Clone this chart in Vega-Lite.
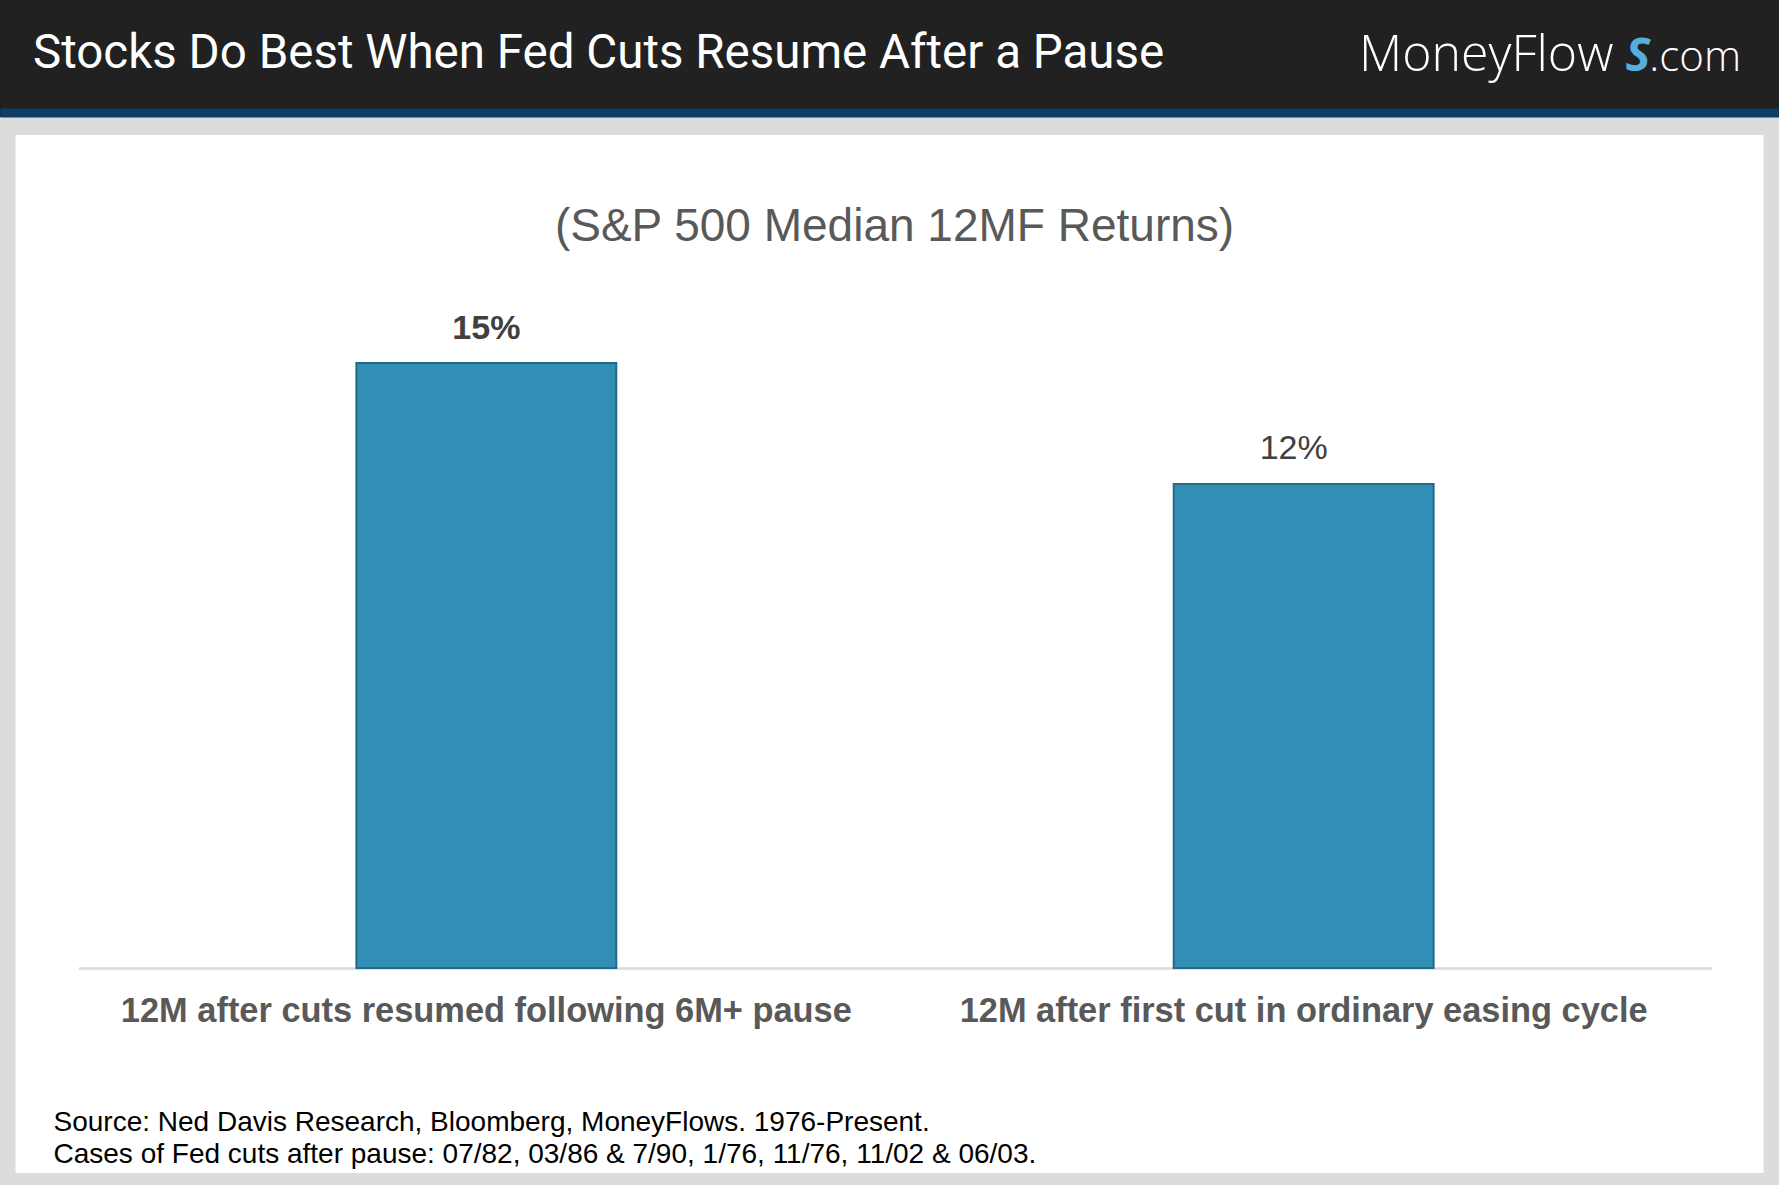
{
  "$schema": "https://vega.github.io/schema/vega-lite/v6.json",
  "background": "#dcdcdc",
  "padding": {"left": 0, "top": 0, "right": 0, "bottom": 12},
  "spacing": 18,
  "center": true,
  "config": {"view": {"stroke": null}},
  "vconcat": [
    {
      "width": 1779,
      "height": 117,
      "view": {"fill": "#212121", "stroke": null},
      "data": {"values": [{"title": "Stocks Do Best When Fed Cuts Resume After a Pause", "brand": "MoneyFlow", "brandS": "S", "tld": ".com"}]},
      "layer": [
        {
          "mark": {"type": "text", "align": "left", "baseline": "alphabetic", "font": "Roboto", "fontSize": 47.5, "color": "#ffffff"},
          "encoding": {
            "x": {"datum": 33, "type": "quantitative", "scale": {"domain": [0, 1779], "nice": false, "zero": false},
              "axis": {"orient": "bottom", "labels": false, "ticks": false, "grid": false, "title": null, "domain": true, "domainColor": "#0e3e66", "domainWidth": 9, "offset": -4.5}},
            "y": {"datum": 68, "type": "quantitative", "scale": {"domain": [0, 117], "reverse": true, "nice": false, "zero": false}, "axis": null},
            "text": {"field": "title"}
          }
        },
        {
          "mark": {"type": "text", "align": "left", "baseline": "alphabetic", "font": "Open Sans", "fontSize": 50, "fontWeight": 300, "color": "#ffffff"},
          "encoding": {
            "x": {"datum": 1359, "type": "quantitative"},
            "y": {"datum": 71, "type": "quantitative"},
            "text": {"field": "brand"}
          }
        },
        {
          "mark": {"type": "text", "align": "center", "baseline": "alphabetic", "font": "Open Sans", "fontSize": 47, "fontWeight": "bold", "fontStyle": "italic", "color": "#56aedb"},
          "encoding": {
            "x": {"datum": 1638, "type": "quantitative"},
            "y": {"datum": 71, "type": "quantitative"},
            "text": {"field": "brandS"}
          }
        },
        {
          "mark": {"type": "text", "align": "right", "baseline": "alphabetic", "font": "Open Sans", "fontSize": 42, "fontWeight": 300, "color": "#ffffff"},
          "encoding": {
            "x": {"datum": 1741, "type": "quantitative"},
            "y": {"datum": 71, "type": "quantitative"},
            "text": {"field": "tld"}
          }
        }
      ]
    },
    {
      "width": 1748,
      "height": 1038,
      "view": {"fill": "#ffffff", "stroke": null},
      "title": {
        "text": "(S&P 500 Median 12MF Returns)",
        "font": "Liberation Sans",
        "fontSize": 46,
        "fontWeight": "normal",
        "color": "#595959",
        "anchor": "middle",
        "frame": "group",
        "orient": "top",
        "offset": 0,
        "baseline": "alphabetic",
        "dy": 152,
        "dx": 5
      },
      "data": {
        "values": [
          {"case": "12M after cuts resumed following 6M+ pause", "ret": 0.15},
          {"case": "12M after first cut in ordinary easing cycle", "ret": 0.12}
        ]
      },
      "encoding": {
        "x": {
          "field": "case",
          "type": "nominal",
          "sort": null,
          "scale": {"range": [63, 1696], "paddingInner": 0.682, "paddingOuter": 0.34},
          "axis": {
            "orient": "bottom",
            "offset": -205,
            "domain": true,
            "domainColor": "#d9d9d9",
            "domainWidth": 2.5,
            "ticks": false,
            "grid": false,
            "labelAngle": 0,
            "labelFont": "Liberation Sans",
            "labelFontSize": 34.4,
            "labelFontWeight": "bold",
            "labelColor": "#595959",
            "labelPadding": 26,
            "labelLimit": 2000,
            "labelBaseline": "top",
            "title": [
              "Source: Ned Davis Research, Bloomberg, MoneyFlows. 1976-Present.",
              "Cases of Fed cuts after pause: 07/82, 03/86 & 7/90, 1/76, 11/76, 11/02 & 06/03."
            ],
            "titleFont": "Liberation Sans",
            "titleFontSize": 28,
            "titleFontWeight": "normal",
            "titleColor": "#000000",
            "titleAnchor": "start",
            "titleAlign": "left",
            "titleBaseline": "alphabetic",
            "titleX": 37.5,
            "titleY": 162,
            "titleLineHeight": 32
          }
        },
        "y": {
          "field": "ret",
          "type": "quantitative",
          "scale": {"domain": [0, 0.15], "range": [833, 228], "nice": false, "zero": true},
          "axis": null
        }
      },
      "layer": [
        {
          "mark": {"type": "bar", "color": "#318fb5", "stroke": "#22698a", "strokeWidth": 2}
        },
        {
          "transform": [{"filter": {"field": "case", "equal": "12M after cuts resumed following 6M+ pause"}}],
          "mark": {"type": "text", "baseline": "alphabetic", "dy": -24, "font": "Liberation Sans", "fontSize": 34, "fontWeight": "bold", "color": "#404040"},
          "encoding": {"text": {"field": "ret", "type": "quantitative", "format": ".0%"}}
        },
        {
          "transform": [{"filter": {"not": {"field": "case", "equal": "12M after cuts resumed following 6M+ pause"}}}],
          "mark": {"type": "text", "baseline": "alphabetic", "dy": -25, "dx": -10, "font": "Liberation Sans", "fontSize": 34, "fontWeight": "normal", "color": "#404040"},
          "encoding": {"text": {"field": "ret", "type": "quantitative", "format": ".0%"}}
        }
      ]
    }
  ]
}
